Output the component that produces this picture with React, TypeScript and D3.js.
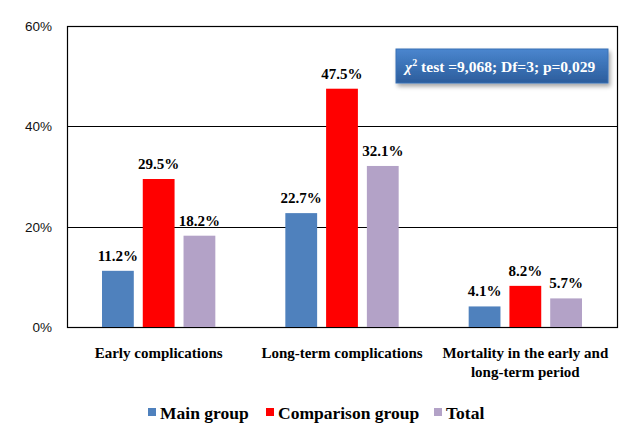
import React, { useEffect, useRef } from 'react';
import * as d3 from 'd3';

const categories = ['Early complications', 'Long-term complications', 'Mortality in the early and long-term period'];
const seriesNames = ['Main group', 'Comparison group', 'Total'];
const mainGroup = [11.2, 22.7, 4.1];
const comparisonGroup = [29.5, 47.5, 8.2];
const total = [18.2, 32.1, 5.7];
const yTicks = [0, 20, 40, 60];
const colors = ['#4F81BD', '#FF0000', '#B3A2C7'];

const W = 639;
const H = 443;
const SERIF = '"Liberation Serif", "Times New Roman", serif';

export default function App() {
  const ref = useRef<SVGSVGElement>(null);

  useEffect(() => {
    if (!ref.current) return;
    const svg = d3.select(ref.current);
    svg.selectAll('*').remove();

    const margin = { top: 26, right: 22, bottom: 116, left: 67 };
    const width = W - margin.left - margin.right;
    const height = H - margin.top - margin.bottom;

    // outer frame
    svg.append('rect')
      .attr('x', 6.5).attr('y', 6.5)
      .attr('width', W - 13).attr('height', H - 13)
      .attr('fill', '#fff').attr('stroke', '#d9d9d9');

    const defs = svg.append('defs');
    const grad = defs.append('linearGradient').attr('id', 'boxGrad')
      .attr('x1', 0).attr('y1', 0).attr('x2', 0).attr('y2', 1);
    grad.append('stop').attr('offset', '0%').attr('stop-color', '#4a86cf');
    grad.append('stop').attr('offset', '100%').attr('stop-color', '#2c5d9c');
    const filt = defs.append('filter').attr('id', 'shadow').attr('x', '-10%').attr('y', '-20%').attr('width', '130%').attr('height', '160%');
    filt.append('feDropShadow').attr('dx', 2).attr('dy', 3).attr('stdDeviation', 2).attr('flood-color', '#000').attr('flood-opacity', 0.35);

    const g = svg.append('g').attr('transform', `translate(${margin.left},${margin.top})`);

    const x0 = d3.scaleBand().domain(categories).range([0, width]).paddingInner(0).paddingOuter(0);
    const x1 = d3.scaleBand().domain(seriesNames).range([35, x0.bandwidth() - 35]).paddingInner(0.22).paddingOuter(0);
    const y = d3.scaleLinear().domain([0, 60]).range([height, 0]);

    // gridlines
    g.selectAll('.grid').data(yTicks.filter(t => t > 0 && t < 60)).enter()
      .append('line')
      .attr('x1', 0).attr('x2', width)
      .attr('y1', d => Math.round(y(d)) + 0.5).attr('y2', d => Math.round(y(d)) + 0.5)
      .attr('stroke', '#000').attr('stroke-width', 1);

    // plot frame
    g.append('rect')
      .attr('x', 0.5).attr('y', 0.5)
      .attr('width', width).attr('height', height)
      .attr('fill', 'none').attr('stroke', '#000').attr('stroke-width', 1.2);

    // y tick labels
    g.selectAll('.ytick').data(yTicks).enter()
      .append('text')
      .attr('x', -15).attr('y', d => y(d) + 5)
      .attr('text-anchor', 'end')
      .attr('font-family', 'Arial, "Liberation Sans", sans-serif')
      .attr('font-size', 13.5)
      .attr('fill', '#111')
      .text(d => `${d}%`);

    const series = [mainGroup, comparisonGroup, total];

    categories.forEach((cat, ci) => {
      const grp = g.append('g').attr('transform', `translate(${x0(cat)},0)`);
      seriesNames.forEach((s, si) => {
        const v = series[si][ci];
        grp.append('rect')
          .attr('x', x1(s)!)
          .attr('y', y(v))
          .attr('width', x1.bandwidth())
          .attr('height', height - y(v))
          .attr('fill', colors[si]);
        grp.append('text')
          .attr('x', x1(s)! + x1.bandwidth() / 2)
          .attr('y', y(v) - 10)
          .attr('text-anchor', 'middle')
          .attr('font-family', SERIF)
          .attr('font-weight', 'bold')
          .attr('font-size', 15)
          .attr('fill', '#000')
          .text(`${v.toFixed(1)}%`);
      });
    });

    // category labels
    const catLines = [['Early complications'], ['Long-term complications'], ['Mortality in the early and', 'long-term period']];
    categories.forEach((cat, ci) => {
      const t = g.append('text')
        .attr('x', x0(cat)! + x0.bandwidth() / 2)
        .attr('y', height + 31)
        .attr('text-anchor', 'middle')
        .attr('font-family', SERIF)
        .attr('font-weight', 'bold')
        .attr('font-size', 15)
        .attr('fill', '#000');
      catLines[ci].forEach((ln, li) => {
        t.append('tspan').attr('x', x0(cat)! + x0.bandwidth() / 2).attr('dy', li === 0 ? 0 : 19).text(ln);
      });
    });

    // legend
    const legendX = [148, 266, 434];
    const legend = svg.append('g');
    seriesNames.forEach((s, si) => {
      legend.append('rect')
        .attr('x', legendX[si]).attr('y', 408)
        .attr('width', 8).attr('height', 8)
        .attr('fill', colors[si]);
      legend.append('text')
        .attr('x', legendX[si] + 12).attr('y', 419)
        .attr('font-family', SERIF)
        .attr('font-weight', 'bold')
        .attr('font-size', 17.5)
        .attr('fill', '#000')
        .text(s);
    });

    // statistics box
    const box = svg.append('g');
    box.append('rect')
      .attr('x', 396).attr('y', 49)
      .attr('width', 212).attr('height', 34)
      .attr('fill', 'url(#boxGrad)')
      .attr('stroke', '#3a70b5')
      .attr('filter', 'url(#shadow)');
    const bt = box.append('text')
      .attr('x', 405).attr('y', 72)
      .attr('font-family', SERIF)
      .attr('font-weight', 'bold')
      .attr('font-size', 15.5)
      .attr('fill', '#fff');
    bt.append('tspan').attr('font-style', 'italic').text('χ');
    bt.append('tspan').attr('font-size', 10).attr('dy', -6).text('2');
    bt.append('tspan').attr('dy', 6).text(' test =9,068; Df=3; p=0,029');
  }, []);

  return (
    <svg ref={ref} width={W} height={H} style={{ display: 'block', margin: -8 }} />
  );
}
